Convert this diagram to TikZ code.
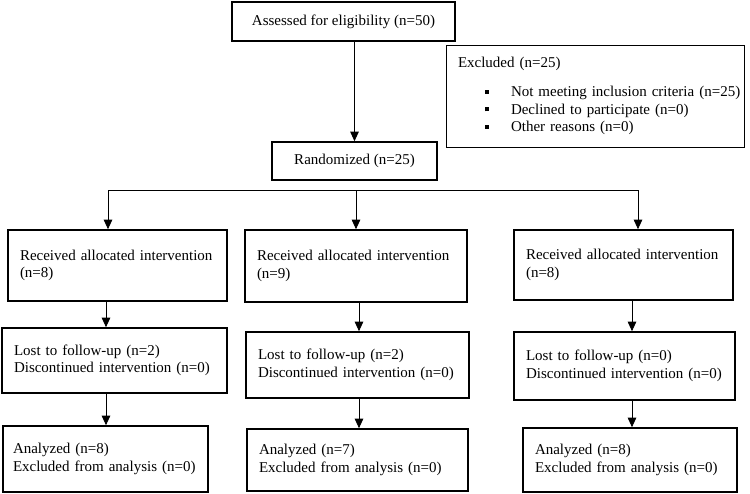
\documentclass[tikz,border=0pt]{standalone}
\usepackage{fontspec}
\setmainfont{Liberation Serif}
\usetikzlibrary{arrows.meta}

\newcommand{\exitem}[1]{\mbox{\hspace*{27pt}\raisebox{3pt}{\rule{4pt}{4pt}}\hspace{22pt}#1}}

\begin{document}
\begin{tikzpicture}
            [
                x=1pt, y=-1pt,
                font=\fontsize{15}{17.5}\selectfont,
                box/.style={draw, line width=1.6pt, inner sep=0pt, align=center},
                textbox/.style={draw, line width=1.6pt, inner xsep=12pt, inner ysep=0pt, align=left},
                arr/.style={-{Triangle[width=8.5pt,length=9.5pt]}, line width=0.9pt}
            ]
            \useasboundingbox[fill=white] (0,0) rectangle (750,493);

            \node[box, minimum width=223pt, minimum height=39pt] (assess) at (343.5,21.5) {Assessed for eligibility (n=50)};
            \node[box, minimum width=165pt, minimum height=38pt] (rand) at (354.5,161) {Randomized (n=25)};
            \node[textbox, line width=1pt, text width=274pt, minimum height=102pt] (excl) at (595,96) {
                Excluded (n=25)\\[12pt]
                \exitem{Not meeting inclusion criteria (n=25)}\\
                \exitem{Declined to participate (n=0)}\\
                \exitem{Other reasons (n=0)}
            };

            \node[textbox, text width=195pt, minimum height=71pt] (rec1) at (117.5,265.5) {Received allocated intervention\\(n=8)};
            \node[textbox, text width=198pt, minimum height=72pt] (rec2) at (356,266) {Received allocated intervention\\(n=9)};
            \node[textbox, text width=195pt, minimum height=70pt] (rec3) at (623.5,265) {Received allocated intervention\\(n=8)};

            \node[textbox, text width=201pt, minimum height=65pt] (lost1) at (114.5,360.5) {Lost to follow-up (n=2)\\Discontinued intervention (n=0)};
            \node[textbox, text width=199pt, minimum height=66pt] (lost2) at (357.5,365) {Lost to follow-up (n=2)\\Discontinued intervention (n=0)};
            \node[textbox, text width=197pt, minimum height=68pt] (lost3) at (624.5,366) {Lost to follow-up (n=0)\\Discontinued intervention (n=0)};

            \node[textbox, inner xsep=10pt, text width=185pt, minimum height=66pt] (ana1) at (105.5,459) {Analyzed (n=8)\\Excluded from analysis (n=0)};
            \node[textbox, text width=197pt, minimum height=62pt] (ana2) at (357.5,460) {Analyzed (n=7)\\Excluded from analysis (n=0)};
            \node[textbox, text width=190pt, minimum height=64pt] (ana3) at (630,460) {Analyzed (n=8)\\Excluded from analysis (n=0)};

            \coordinate (arm1) at (108,190);
            \coordinate (arm2) at (356,190);
            \coordinate (arm3) at (638,190);
            \coordinate (col1) at (106,0);
            \coordinate (col2) at (359,0);
            \coordinate (col3) at (632,0);

            \draw[arr] (assess.south -| rand.north) -- (rand.north);
            \draw[line width=0.9pt] (arm1) -- (arm3);
            \foreach \i in {1,2,3} {
                \draw[arr] (arm\i) -- (arm\i |- rec\i.north);
                \draw[arr] (rec\i.south -| col\i) -- (lost\i.north -| col\i);
                \draw[arr] (lost\i.south -| col\i) -- (ana\i.north -| col\i);
            }
\end{tikzpicture}
\end{document}
